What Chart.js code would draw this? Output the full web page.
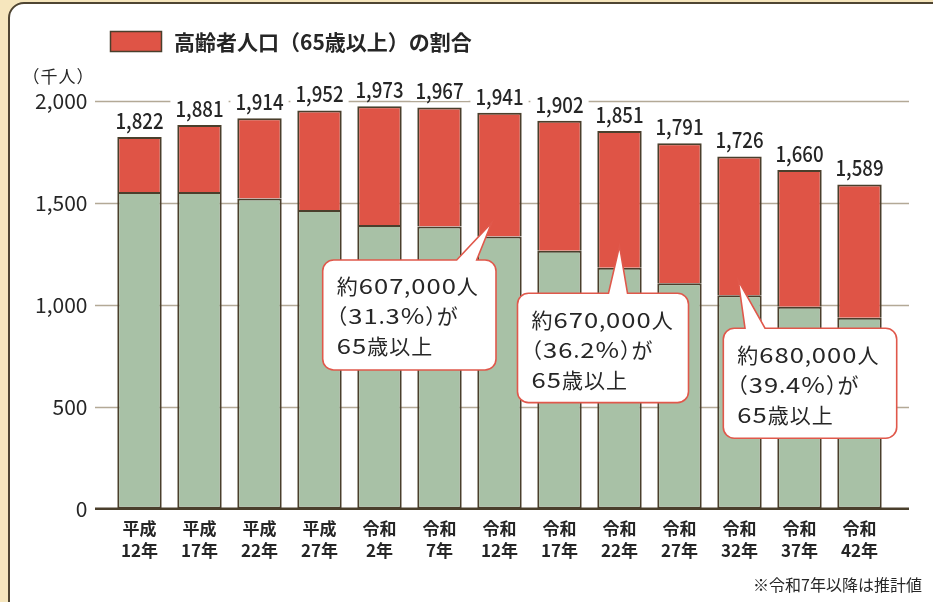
<!DOCTYPE html>
<html><head><meta charset="utf-8">
<script src="https://cdn.jsdelivr.net/npm/chart.js@4.4.0/dist/chart.umd.min.js"></script>
<style>
html,body{margin:0;padding:0;width:933px;height:602px;overflow:hidden;background:#f6e6bd;}
#panel{position:absolute;left:8px;top:2px;width:980px;height:660px;background:#fff;border:2px solid #4f4532;border-radius:16px;box-sizing:border-box;}
#c{position:absolute;left:0;top:0;}
</style></head><body>
<div id="panel"></div>
<canvas id="c" width="933" height="602"></canvas>
<script>
const eraLabels = ['平成','平成','平成','平成','令和','令和','令和','令和','令和','令和','令和','令和','令和'];
const yearLabels = ['12年','17年','22年','27年','2年','7年','12年','17年','22年','27年','32年','37年','42年'];
const under65 = [1552,1552,1520,1464,1391,1383,1334,1265,1181,1105,1046,990,936];
const over65 = [270,329,394,488,582,584,607,637,670,686,680,670,653];
const totals = [1822,1881,1914,1952,1973,1967,1941,1902,1851,1791,1726,1660,1589];
const yTicks = [0,500,1000,1500,2000];
const legendText = '高齢者人口（65歳以上）の割合';
const unitText = '（千人）';
const noteText = '※令和7年以降は推計値';
const calloutIndex = [6,8,10];
const calloutValue = [1402,1288,1118];
const calloutLines = [
  ['約607,000人','（31.3%）が','65歳以上'],
  ['約670,000人','（36.2%）が','65歳以上'],
  ['約680,000人','（39.4%）が','65歳以上']
];

const FONT = "'Noto Sans CJK JP','Noto Sans',sans-serif";
const RED = '#df5446', GREEN = '#a8c1a6', EDGE = '#4a3f2c', TXT = '#262626';
const calloutLayout = [
  {dx:-7.8, boxDX:-169, boxDY:37.3, w:173.3, h:110, baseL:-35, baseR:-15},
  {dx:0, boxDX:-102, boxDY:47.3, w:171, h:109.4, baseL:-11, baseR:8},
  {dx:-1.2, boxDX:-15, boxDY:47.6, w:173.4, h:110, baseL:6.7, baseR:26.7}
];

// draws text with compact full-width parentheses and widened digits
function drawCompact(ctx, text, x, y, digitScale, sp){
  for (const ch of text){
    const w = ctx.measureText(ch).width;
    if (ch === '（'){ ctx.fillText(ch, x - w*0.5, y); x += w*0.5 + sp; }
    else if (ch === '）'){ ctx.fillText(ch, x, y); x += w*0.5 + sp; }
    else if (/[0-9%]/.test(ch) && digitScale !== 1){
      ctx.save(); ctx.translate(x, y); ctx.scale(digitScale, 1);
      ctx.fillText(ch, 0, 0); ctx.restore();
      x += w*digitScale + sp;
    }
    else { ctx.fillText(ch, x, y); x += w + sp; }
  }
  return x;
}

function drawCallout(ctx, lay, lines, tipX, tipY){
  const L = tipX + lay.boxDX, T = tipY + lay.boxDY, W = lay.w, H = lay.h, r = 11;
  const b1 = tipX + lay.baseL, b2 = tipX + lay.baseR;
  ctx.beginPath();
  ctx.moveTo(L+r,T);
  ctx.lineTo(b1,T); ctx.lineTo(tipX,tipY); ctx.lineTo(b2,T);
  ctx.lineTo(L+W-r,T); ctx.arcTo(L+W,T,L+W,T+r,r);
  ctx.lineTo(L+W,T+H-r); ctx.arcTo(L+W,T+H,L+W-r,T+H,r);
  ctx.lineTo(L+r,T+H); ctx.arcTo(L,T+H,L,T+H-r,r);
  ctx.lineTo(L,T+r); ctx.arcTo(L,T,L+r,T,r);
  ctx.closePath();
  ctx.fillStyle = '#ffffff'; ctx.fill();
  ctx.strokeStyle = '#e0584b'; ctx.lineWidth = 1.6; ctx.stroke();
  ctx.fillStyle = TXT;
  ctx.font = '21px ' + FONT;
  ctx.textAlign = 'left'; ctx.textBaseline = 'middle';
  lines.forEach((t,i)=>drawCompact(ctx, t, L+14, T+26.5+i*30, 1.22, 1));
}

const decor = {
  id:'decor',
  beforeDatasetsDraw(chart){
    const {ctx, chartArea:a, scales:{y}} = chart;
    ctx.save();
    yTicks.forEach(v=>{
      if (v === 0) return;
      const py = Math.round(y.getPixelForValue(v)) + 0.5;
      ctx.beginPath();
      ctx.strokeStyle = '#b3a996'; ctx.lineWidth = 1.5;
      ctx.moveTo(a.left-14.5, py); ctx.lineTo(a.right+19.5, py); ctx.stroke();
    });
    ctx.restore();
  },
  afterDatasetsDraw(chart){
    const {ctx, chartArea:a, scales:{x,y}} = chart;
    ctx.save();
    // zero line
    const p0 = y.getPixelForValue(0);
    ctx.beginPath(); ctx.strokeStyle = EDGE; ctx.lineWidth = 2.5;
    ctx.moveTo(a.left-14.5, p0); ctx.lineTo(a.right+19.5, p0); ctx.stroke();
    // total labels (slightly condensed)
    ctx.font = '500 22px ' + FONT;
    ctx.textAlign = 'center'; ctx.textBaseline = 'middle';
    const sx = 0.85;
    totals.forEach((v,i)=>{
      const px = x.getPixelForValue(i), py = y.getPixelForValue(v) - 16.5;
      const t = v.toLocaleString('en-US');
      const w = ctx.measureText(t).width * sx + 10;
      ctx.fillStyle = '#ffffff';
      ctx.fillRect(px - w/2, py - 10, w, 20);
      ctx.save();
      ctx.translate(px, py); ctx.scale(sx, 1);
      ctx.fillStyle = TXT;
      ctx.fillText(t, 0, 0);
      ctx.restore();
    });
    // callouts
    calloutIndex.forEach((idx,k)=>{
      const lay = calloutLayout[k];
      const tx = x.getPixelForValue(idx) + lay.dx;
      const ty = y.getPixelForValue(calloutValue[k]);
      drawCallout(ctx, lay, calloutLines[k], tx, ty);
    });
    // legend
    ctx.fillStyle = RED; ctx.fillRect(110.5, 31.5, 51, 20);
    ctx.strokeStyle = EDGE; ctx.lineWidth = 1.5; ctx.strokeRect(110.5, 31.5, 51, 20);
    ctx.fillStyle = TXT; ctx.font = 'bold 21px ' + FONT;
    ctx.textAlign = 'left'; ctx.textBaseline = 'middle';
    ctx.fillText(legendText, 174, 42);
    // unit
    ctx.font = '17px ' + FONT; ctx.textAlign = 'left';
    drawCompact(ctx, unitText, 31, 77, 1, 1);
    // note
    ctx.font = '16px ' + FONT; ctx.textAlign = 'right';
    ctx.fillText(noteText, 922, 585);
    ctx.restore();
  }
};

new Chart(document.getElementById('c'), {
  type:'bar',
  data:{
    labels: eraLabels.map((e,i)=>[e, yearLabels[i]]),
    datasets:[
      {label:'65歳未満', data:under65, backgroundColor:GREEN, borderColor:EDGE, borderWidth:2, borderSkipped:false, categoryPercentage:1, barPercentage:0.74},
      {label:legendText, data:over65, backgroundColor:RED, borderColor:EDGE, borderWidth:2, borderSkipped:'start', categoryPercentage:1, barPercentage:0.74}
    ]
  },
  options:{
    responsive:false, devicePixelRatio:1, animation:false,
    layout:{padding:{left:0, right:43.5, top:100.7, bottom:0}},
    plugins:{legend:{display:false}, tooltip:{enabled:false}, title:{display:false}},
    scales:{
      x:{stacked:true, grid:{display:false, drawTicks:false}, border:{display:false},
         ticks:{autoSkip:false, maxRotation:0, padding:9, color:TXT, font:{family:FONT, size:17, weight:'bold', lineHeight:1.3}},
         afterFit(s){ s.height = 93.3; }},
      y:{stacked:true, min:0, max:2000, grid:{display:false, drawTicks:false}, border:{display:false},
         ticks:{stepSize:500, padding:22, color:TXT, font:{family:FONT, size:21}},
         afterFit(s){ s.width = 109.5; }}
    }
  },
  plugins:[decor]
});
</script>
</body></html>
